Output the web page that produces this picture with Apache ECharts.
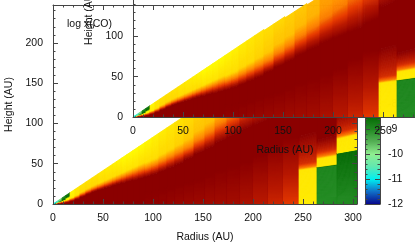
<!DOCTYPE html>
<html><head><meta charset="utf-8">
<style>html,body{margin:0;padding:0;background:#fff}#c{width:415px;height:242px}</style>
<script src="https://cdn.jsdelivr.net/npm/echarts@6/dist/echarts.min.js"></script>
</head><body><div id="c"></div>
<script>
// radial bin edges (AU)
const rEdges=[1,3,6,9,13,17,22,27,33,39,45,52,60,64,69,74,80,86,92,99,106,114,122,131,141,152,162,174,187,200,215,230,246,264,284,304];
// per radial bin: heights as z/r, and log x(CO)
const tTop=[.83,.83,.83,.83,.83,.83,.83,.83,.83,.83,.83,.83,.83,.83,.83,.83,.83,.83,.83,.83,.83,.83,.83,.82,.82,.81,.81,.80,.80,.79,.79,.78,.78,.78,.78];
const vTop=[-11.4,-11,-10,-9,-8.7,-8.1,-7.8,-7.7,-7.7,-7.7,-7.8,-7.9,-8,-8.1,-8.2,-8.2,-8.2,-8.2,-8.1,-8,-7.9,-7.8,-7.7,-7.6,-7.5,-7.4,-7.3,-7.1,-6.8,-7.2,-6.8,-6,-4.5,-4.2,-4.2];
const vKnee=[-10.5,-9.5,-9,-8.2,-8.1,-7.9,-7.7,-7.5,-7.5,-7.5,-7.6,-7.6,-7.6,-7.6,-7.7,-7.7,-7.7,-7.6,-7.6,-7.6,-7.5,-7.5,-7.4,-7.3,-7.2,-7.2,-7.1,-7,-6.7,-6.7,-6.5,-5.5,-4.3,-4.1,-4.1];
const tOrange=[.35,.35,.33,.3,.32,.36,.4,.45,.48,.49,.49,.49,.49,.49,.49,.49,.49,.49,.48,.48,.49,.5,.51,.52,.55,.57,.6,.62,.645,.66,.69,.72,.74,.75,.76];
const tDark=[.2,.2,.15,.15,.18,.22,.28,.33,.37,.39,.39,.39,.39,.39,.38,.38,.37,.37,.37,.37,.38,.39,.4,.42,.44,.45,.47,.48,.49,.49,.49,.5,.55,.6,.6];
const tFade=[.05,.05,.05,.05,.05,.05,.05,.05,.05,.05,.05,.05,.05,.05,.05,.05,.05,.05,.16,.17,.18,.19,.2,.21,.22,.24,.26,.27,.28,.3,.33,.35,.34,.3,.4];
const vBase=[-4,-4,-4,-4,-4,-4,-4,-4,-4,-4,-4,-4,-4,-4,-4,-4,-4,-4,-4.1,-4.1,-4.15,-4.2,-4.25,-4.3,-4.35,-4.4,-4.42,-4.45,-4.6,-4.85,-5.1,-5.45,-7.9,-9,-9];
// outer freeze-out bins: [bin index, top of frozen zone z/r, value at its top, top of yellow z/r]
const iceBins=[[32,0,-7.9,.172],[33,.172,-8.9,.213],[34,.222,-8.5,.285]];
// colour scale of log x(CO)
const scaleVals=[-12,-11.5,-11,-10.5,-10,-9.5,-9,-8.4,-8.3,-7.5,-6.5,-5.5,-4.8,-4];
const scaleCols=['#08088c','#1070c8','#00f0f0','#60e8b0','#90ee90','#55b055','#228b22','#006400','#ffff00','#ffd700','#ff8c00','#e83c00','#b81800','#8b0000'];
const barRange=[-12,-4];
const FONT='"Liberation Sans"', FS=10.5, INK='#111', TICK='#444';

function hex(c){return [1,3,5].map(i=>parseInt(c.substr(i,2),16));}
function colorOf(v){
  if(v<=scaleVals[0])return scaleCols[0];
  for(let i=1;i<scaleVals.length;i++){ if(v<=scaleVals[i]){
    const f=(v-scaleVals[i-1])/(scaleVals[i]-scaleVals[i-1]),a=hex(scaleCols[i-1]),b=hex(scaleCols[i]);
    return 'rgb('+a.map((x,k)=>Math.round(x+(b[k]-x)*f)).join(',')+')';}}
  return scaleCols[scaleCols.length-1];
}
function stopsOf(i){
  const ice=iceBins.find(b=>b[0]===i);
  let s=[];
  if(ice){
    if(ice[1]>0){s.push([0,vBase[i]],[ice[1],ice[2]],[ice[1]+.002,-7.9]);}
    else s.push([0,-7.9]);
    s.push([ice[3],-7.8],[ice[3]+.008,-6.4],[ice[3]+.03,-5.2],[tFade[i],-4]);
  } else {
    s.push([0,-4]);
  }
  s.push([tDark[i],-4],[tOrange[i],-6.3],[tOrange[i]+.08,vKnee[i]],[tTop[i],vTop[i]]);
  return s;
}
function wedgeItem(params,api){
  const i=api.value(2),r0=api.value(0),r1=api.value(1),st=stopsOf(i),kids=[];
  const quad=(t0,t1,v,rl,rr)=>{const c=colorOf(v);
    kids.push({type:'polygon',shape:{points:[api.coord([r0,t0*rl]),api.coord([r1,t0*rr]),api.coord([r1,t1*rr]),api.coord([r0,t1*rl])]},
      style:{fill:c,stroke:c,lineWidth:.8}});};
  for(let k=0;k<st.length-1;k++){
    const a=st[k],b=st[k+1];
    if(b[0]<=a[0])continue;
    const n=a[1]===b[1]?1:Math.max(1,Math.ceil((b[0]-a[0])*r1*0.8));
    for(let j=0;j<n;j++){
      quad(a[0]+(b[0]-a[0])*j/n,a[0]+(b[0]-a[0])*(j+1)/n,a[1]+(b[1]-a[1])*(j+.5)/n,r0,r1);
    }
  }
  // near-midplane brightening lies flatter than the cone lines
  if(!iceBins.find(b=>b[0]===i)&&vBase[i]!==-4){
    const rc=(r0+r1)/2,rl=rc+(r0-rc)*.3,rr=rc+(r1-rc)*.3,n=Math.ceil(tFade[i]*r1*.8);
    for(let j=0;j<n;j++){
      quad(tFade[i]*j/n,tFade[i]*(j+1)/n,vBase[i]+(-4-vBase[i])*(j+.5)/n,rl,rr);
    }
  }
  return {type:'group',children:kids};
}
const bins=rEdges.slice(0,-1).map((r,i)=>[r,rEdges[i+1],i]);

const G=[{left:53,top:5,width:304,height:199},{left:133,top:-82,width:304,height:199},{left:365,top:5,width:15,height:199}];
G.forEach(g=>{g.containLabel=false;g.show=false;g.outerBoundsMode='none';});
const xAxis=[],yAxis=[];
function ax(list,o){list.push(Object.assign({type:'value',axisLine:{show:false,onZero:false},splitLine:{show:false},axisLabel:{show:false},axisTick:{show:false},minorTick:{show:false}},o));return list.length-1;}
function side(list,g,pos,max,z,lab,name,min,maj,minr){
  min=min||0;maj=maj||50;minr=minr||10;
  const i=ax(list,{gridIndex:g,position:pos,min:min,max:max,interval:maj,z:z,
    axisLine:{show:true,onZero:false,lineStyle:{color:TICK,width:1}},
    axisTick:{show:true,inside:true,length:5,lineStyle:{color:TICK,width:1}},
    axisLabel:lab?Object.assign({show:true,fontFamily:FONT,fontSize:FS,color:INK,showMaxLabel:false},lab):{show:false},
    name:name?name.text:'',nameLocation:'middle',nameGap:name?name.gap:0,nameTextStyle:{fontFamily:FONT,fontSize:FS,color:INK}});
  ax(list,{gridIndex:g,position:pos,min:min,max:max,interval:minr,z:z,
    axisTick:{show:true,inside:true,length:2.5,lineStyle:{color:TICK,width:1}}});
  return i;
}
const XMAX=304,YMAX=247;
// back panel
const bx=side(xAxis,0,'bottom',XMAX,3,{margin:9},{text:'Radius (AU)',gap:28});
side(xAxis,0,'top',XMAX,3);
const by=side(yAxis,0,'left',YMAX,3,{margin:10},{text:'Height (AU)',gap:30});
side(yAxis,0,'right',YMAX,3);
// front panel
const fx=side(xAxis,1,'bottom',XMAX,5,{margin:9},{text:'Radius (AU)',gap:28});
const fy=side(yAxis,1,'left',YMAX,5,{margin:10},{text:'Height (AU)',gap:30});
// colour bar
const cx=ax(xAxis,{gridIndex:2,position:'bottom',min:0,max:1,z:3,axisLine:{show:true,onZero:false,lineStyle:{color:TICK}}});
ax(xAxis,{gridIndex:2,position:'top',min:0,max:1,z:3,axisLine:{show:true,onZero:false,lineStyle:{color:TICK}}});
const cyl=side(yAxis,2,'left',barRange[1],3,null,null,barRange[0],1,.2);
yAxis[cyl].axisLabel={show:false};
const cyr=side(yAxis,2,'right',barRange[1],3,{margin:8,showMaxLabel:true,showMinLabel:true,align:'left'},null,barRange[0],1,.2);

const barStops=scaleVals.map((v,i)=>({offset:(v-barRange[0])/(barRange[1]-barRange[0]),color:scaleCols[i]}));
const wedge=(xi,yi,z)=>({type:'custom',xAxisIndex:xi,yAxisIndex:yi,z:z,silent:true,clip:true,animation:false,
  renderItem:wedgeItem,encode:{x:[0,1]},data:bins});
const option={animation:false,backgroundColor:'#fff',
  title:{text:'log x(CO)',left:67,top:19,padding:0,z:1,textStyle:{fontFamily:FONT,fontSize:FS,fontWeight:'normal',color:INK}},
  grid:G,xAxis:xAxis,yAxis:yAxis,
  series:[
    wedge(bx,by,2),
    {type:'custom',xAxisIndex:cx,yAxisIndex:cyr,z:2,silent:true,animation:false,
     renderItem:(p,api)=>{const a=api.coord([0,api.value(0)]),b=api.coord([1,api.value(1)]);
       return {type:'rect',shape:{x:a[0],y:b[1],width:b[0]-a[0],height:a[1]-b[1]},
         style:{fill:{type:'linear',x:0,y:1,x2:0,y2:0,colorStops:barStops}}};},
     data:[barRange]},
    wedge(fx,fy,4)
  ]};
echarts.init(document.getElementById('c'),null,{renderer:'canvas'}).setOption(option);
</script></body></html>
